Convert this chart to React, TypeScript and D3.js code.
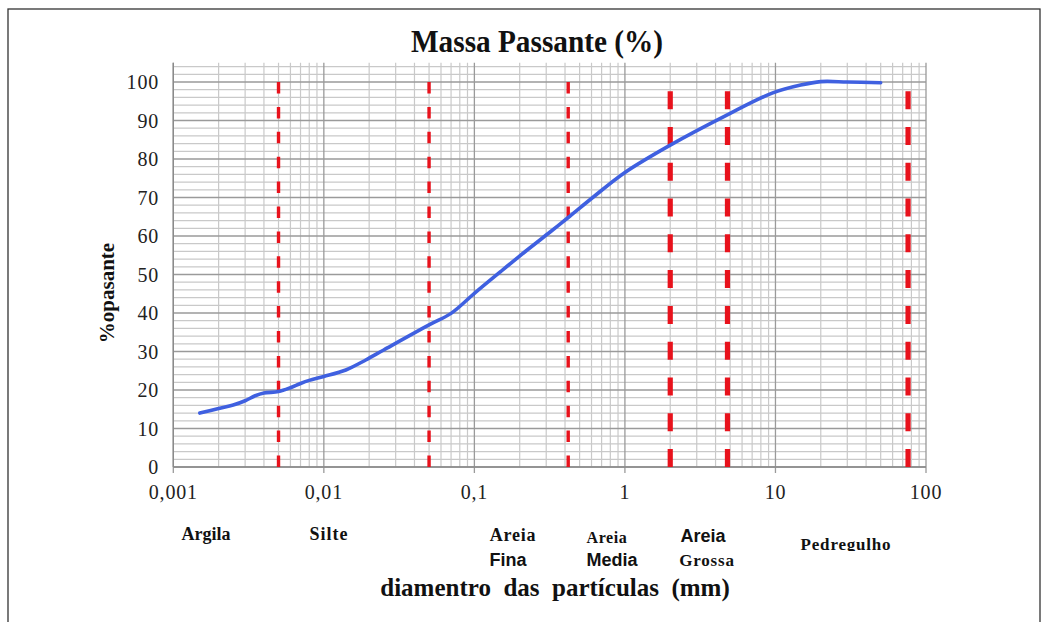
import React from 'react';
import * as d3 from 'd3';

// grain size curve
const diameters = [0.0015, 0.002, 0.0025, 0.003, 0.0035, 0.004, 0.005, 0.006, 0.007, 0.008, 0.01, 0.014, 0.019, 0.025, 0.05, 0.07, 0.1, 0.15, 0.22, 0.32, 0.42, 0.62, 1.0, 2.0, 4.75, 9.5, 14.7, 20, 30, 50];
const passing = [14, 15.2, 16.1, 17.2, 18.5, 19.2, 19.6, 20.6, 21.7, 22.5, 23.5, 25.2, 27.8, 30.4, 36.9, 39.9, 45.1, 50.8, 56.1, 61.1, 64.8, 70.2, 76.5, 83.6, 91.4, 97.1, 99.2, 100.1, 100, 99.8];

// class limits (mm)
const thinLimits = [0.005, 0.05, 0.42];
const heavyLimits = [2.0, 4.8, 76];

const xTickValues = [0.001, 0.01, 0.1, 1, 10, 100];
const xTickLabels = ['0,001', '0,01', '0,1', '1', '10', '100'];
const yTickValues = [0, 10, 20, 30, 40, 50, 60, 70, 80, 90, 100];

const title = 'Massa Passante (%)';
const yTitle = '%opasante';
const xTitle = 'diamentro  das  partículas  (mm)';

const serif = '"Liberation Serif", "Times New Roman", serif';
const sans = '"Liberation Sans", Arial, sans-serif';

export default function App() {
  const width = 1046;
  const height = 622;
  const left = 173.3;
  const right = 926;
  const bottom = 467;

  const x = d3.scaleLog().domain([0.001, 100]).range([left, right]);
  const y = d3.scaleLinear().domain([0, 105]).range([bottom, bottom - 105 * 3.85]);
  const top = y(105);

  // minor + major log grid
  const vGrid: { v: number; major: boolean }[] = [];
  for (let e = -3; e < 2; e++) {
    for (let m = 1; m <= 9; m++) vGrid.push({ v: m * Math.pow(10, e), major: m === 1 });
  }
  vGrid.push({ v: 100, major: true });
  const hGrid = d3.range(0, 105, 2).map((v) => ({ v, major: v % 10 === 0 }));

  const line = d3
    .line<number>()
    .x((d, i) => x(diameters[i]))
    .y((d) => y(d))
    .curve(d3.curveCatmullRom.alpha(0.5));

  const red = '#e8121c';
  const thinSpan = y(0) - y(100);
  const thinPeriod = (thinSpan - 11.5) / 15;
  const heavyTop = y(97.6);
  const heavyPeriod = (y(0) - heavyTop - 18) / 10;

  return (
    <svg width={width} height={height} style={{ position: 'absolute', left: 0, top: 0, background: '#fff' }}>
      <defs>
        <clipPath id="pedClip">
          <rect x={780} y={520} width={140} height={31} />
        </clipPath>
      </defs>
      <rect x={8} y={9} width={1032} height={700} fill="#fff" stroke="#333" strokeWidth={1.3} />

      {/* grid */}
      {hGrid.filter((g) => !g.major).map((g) => (
        <line key={'hm' + g.v} x1={left} x2={right} y1={y(g.v)} y2={y(g.v)} stroke="#c9c9c9" strokeWidth={1.2} />
      ))}
      {vGrid.filter((g) => !g.major).map((g) => (
        <line key={'vm' + g.v} x1={x(g.v)} x2={x(g.v)} y1={top} y2={bottom} stroke="#c9c9c9" strokeWidth={1.2} />
      ))}
      {hGrid.filter((g) => g.major).map((g) => (
        <line key={'hM' + g.v} x1={left} x2={right} y1={y(g.v)} y2={y(g.v)} stroke="#9a9a9a" strokeWidth={1.3} />
      ))}
      {vGrid.filter((g) => g.major).map((g) => (
        <line key={'vM' + g.v} x1={x(g.v)} x2={x(g.v)} y1={top} y2={bottom + 6} stroke="#9a9a9a" strokeWidth={1.3} />
      ))}
      <line x1={left} x2={right} y1={bottom} y2={bottom} stroke="#8a8a8a" strokeWidth={1.4} />
      <line x1={left} x2={left} y1={top} y2={bottom} stroke="#8a8a8a" strokeWidth={1.4} />

      {/* class limits */}
      {thinLimits.map((d) => (
        <line key={'t' + d} x1={x(d)} x2={x(d)} y1={y(100)} y2={y(0)} stroke={red} strokeWidth={3.4}
          strokeDasharray={`11.5 ${thinPeriod - 11.5}`} />
      ))}
      {heavyLimits.map((d) => (
        <line key={'h' + d} x1={x(d)} x2={x(d)} y1={heavyTop} y2={y(0)} stroke={red} strokeWidth={5.2}
          strokeDasharray={`18 ${heavyPeriod - 18}`} />
      ))}

      {/* curve */}
      <path d={line(passing) || ''} fill="none" stroke="#3f60e0" strokeWidth={3.6} strokeLinecap="round" strokeLinejoin="round" />

      {/* ticks */}
      {yTickValues.map((v) => (
        <text key={'yl' + v} x={159} y={y(v)} dy="0.35em" textAnchor="end" fontFamily={serif} fontSize={20} letterSpacing={0.8} fill="#222">
          {v}
        </text>
      ))}
      {xTickValues.map((v, i) => (
        <text key={'xl' + v} x={x(v)} y={499} textAnchor="middle" fontFamily={serif} fontSize={20} letterSpacing={0.8} fill="#222">
          {xTickLabels[i]}
        </text>
      ))}

      {/* titles */}
      <text x={537} y={52} textAnchor="middle" fontFamily={serif} fontWeight="bold" fontSize={31} textLength={252}
        lengthAdjust="spacingAndGlyphs" fill="#111">
        {title}
      </text>
      <text transform={`translate(114,293) rotate(-90)`} textAnchor="middle" fontFamily={serif} fontWeight="bold" fontSize={21} fill="#111">
        {yTitle}
      </text>
      <text x={555} y={596} textAnchor="middle" fontFamily={serif} fontWeight="bold" fontSize={25} fill="#111" style={{ whiteSpace: 'pre' }}>
        {xTitle}
      </text>

      {/* soil classes */}
      <g fill="#111" fontWeight="bold">
        <text x={206} y={540} textAnchor="middle" fontFamily={serif} fontSize={18}>Argila</text>
        <text x={329} y={540} textAnchor="middle" fontFamily={serif} fontSize={18} letterSpacing={1}>Silte</text>
        <text x={513} y={541} textAnchor="middle" fontFamily={serif} fontSize={18} letterSpacing={0.8}>Areia</text>
        <text x={508} y={566} textAnchor="middle" fontFamily={sans} fontSize={18}>Fina</text>
        <text x={607} y={543} textAnchor="middle" fontFamily={serif} fontSize={16} letterSpacing={0.6}>Areia</text>
        <text x={612} y={566} textAnchor="middle" fontFamily={sans} fontSize={18}>Media</text>
        <text x={703} y={542} textAnchor="middle" fontFamily={sans} fontSize={18}>Areia</text>
        <text x={707} y={566} textAnchor="middle" fontFamily={serif} fontSize={17} letterSpacing={0.8}>Grossa</text>
        <text x={846} y={550} textAnchor="middle" fontFamily={serif} fontSize={17} letterSpacing={0.8} clipPath="url(#pedClip)">Pedregulho</text>
      </g>
    </svg>
  );
}
